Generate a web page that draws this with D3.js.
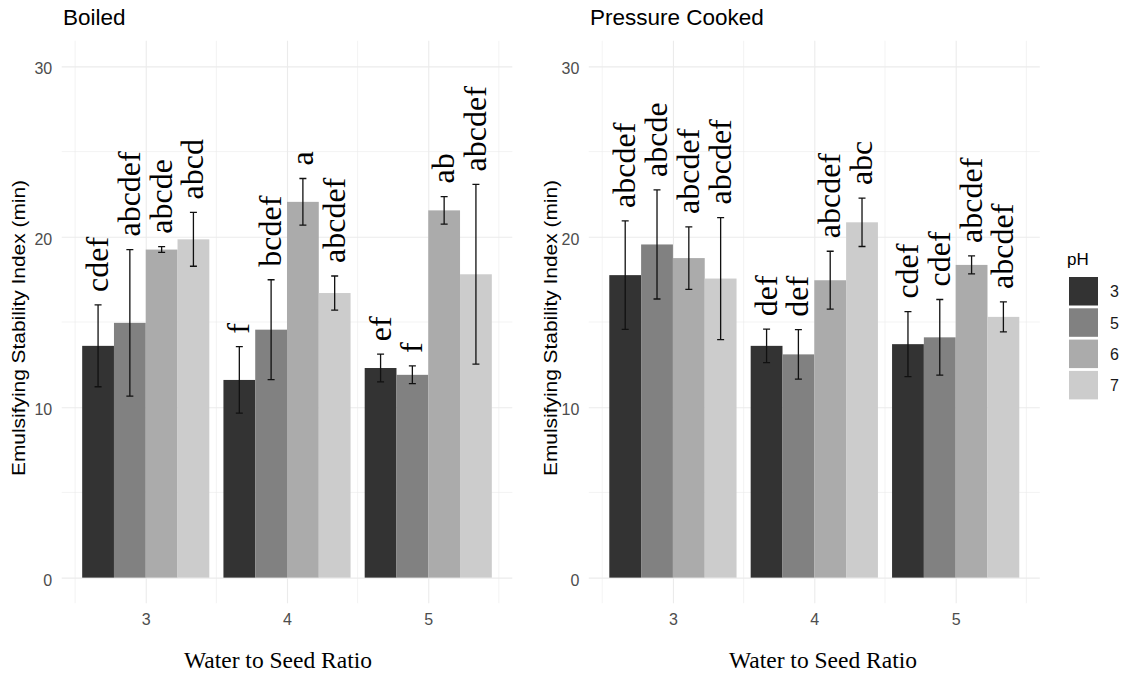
<!DOCTYPE html>
<html>
<head>
<meta charset="utf-8">
<script src="https://cdn.jsdelivr.net/npm/d3@7"></script>
<style>
  html, body { margin: 0; padding: 0; background: #ffffff; }
  svg { display: block; }
</style>
</head>
<body>
<div id="chart"></div>
<script>
// ---------------- DATA ----------------
const ratios = [3, 4, 5];                 // Water to Seed Ratio
const pHLevels = ["3", "5", "6", "7"];    // fill groups
const yTicks = [0, 10, 20, 30];
const yMinor = [5, 15, 25];
const xMinor = [2.5, 3.5, 4.5, 5.5];
const panelTitles = ["Boiled", "Pressure Cooked"];

// values ordered: ratio 3 (pH 3,5,6,7), ratio 4 (pH 3,5,6,7), ratio 5 (pH 3,5,6,7)
const boiledMean = [13.6, 14.95, 19.25, 19.85,  11.6, 14.55, 22.05, 16.7,  12.3, 11.9, 21.55, 17.8];
const boiledSE   = [2.4, 4.3, 0.17, 1.58,        1.95, 2.93, 1.37, 1.0,     0.81, 0.52, 0.81, 5.27];
const boiledLetters = ["cdef", "abcdef", "abcde", "abcd",  "f", "bcdef", "a", "abcdef",  "ef", "f", "ab", "abcdef"];

const pressureMean = [17.75, 19.55, 18.75, 17.55,  13.6, 13.1, 17.45, 20.85,  13.7, 14.1, 18.35, 15.3];
const pressureSE   = [3.18, 3.2, 1.83, 3.58,        0.98, 1.45, 1.7, 1.42,     1.91, 2.22, 0.53, 0.88];
const pressureLetters = ["abcdef", "abcde", "abcdef", "abcdef",  "def", "def", "abcdef", "abc",  "cdef", "cdef", "abcdef", "abcdef"];

const fillColors = ["#333333", "#818181", "#ababab", "#cccccc"];

// ---------------- BUILD ----------------
function buildRows(means, ses, letters) {
  const rows = [];
  ratios.forEach((r, ri) => {
    pHLevels.forEach((p, pi) => {
      const k = ri * pHLevels.length + pi;
      rows.push({ ratio: r, pH: p, pi: pi, mean: means[k], se: ses[k], letter: letters[k] });
    });
  });
  return rows;
}
const panelData = [
  buildRows(boiledMean, boiledSE, boiledLetters),
  buildRows(pressureMean, pressureSE, pressureLetters)
];

// ---------------- LAYOUT ----------------
const W = 1124, H = 677;
const panelTop = 40.8, panelBottom = 603.2;
const layout = [
  { x0: 61.7,  x1: 512.3, titleX: 63,  yTitleX: 25,  xTitleX: 278 },
  { x0: 588.8, x1: 1039.8, titleX: 590, yTitleX: 557, xTitleX: 823 }
];
const dodgeWidth = 0.9;

const svg = d3.select("#chart").append("svg")
  .attr("width", W).attr("height", H)
  .attr("viewBox", `0 0 ${W} ${H}`);
svg.append("rect").attr("width", W).attr("height", H).attr("fill", "#ffffff");

const y = d3.scaleLinear().domain([-1.5, 31.5]).range([panelBottom, panelTop]);
const fill = d3.scaleOrdinal().domain(pHLevels).range(fillColors);
const sans = "'Liberation Sans', Arial, sans-serif";
const serif = "'Liberation Serif', 'Times New Roman', serif";

panelData.forEach((rows, pIdx) => {
  const L = layout[pIdx];
  const x = d3.scaleLinear().domain([2.405, 5.595]).range([L.x0, L.x1]);
  const g = svg.append("g");

  // minor grid
  g.append("g").selectAll("line.hmin").data(yMinor).join("line")
    .attr("x1", L.x0).attr("x2", L.x1)
    .attr("y1", d => y(d)).attr("y2", d => y(d))
    .attr("stroke", "#ebebeb").attr("stroke-width", 0.6);
  g.append("g").selectAll("line.vmin").data(xMinor).join("line")
    .attr("x1", d => x(d)).attr("x2", d => x(d))
    .attr("y1", panelTop).attr("y2", panelBottom)
    .attr("stroke", "#ebebeb").attr("stroke-width", 0.6);

  // y axis (major grid + labels)
  const yAxis = g.append("g")
    .attr("transform", `translate(${L.x0},0)`)
    .call(d3.axisLeft(y).tickValues(yTicks).tickSize(-(L.x1 - L.x0)).tickPadding(9.5));
  yAxis.select(".domain").remove();
  yAxis.selectAll(".tick line").attr("stroke", "#ebebeb").attr("stroke-width", 1.1);
  yAxis.selectAll(".tick text")
    .attr("font-family", sans).attr("font-size", 16).attr("fill", "#4d4d4d").attr("dy", "0.47em");

  // x axis (major grid + labels)
  const xAxis = g.append("g")
    .attr("transform", `translate(0,${panelBottom})`)
    .call(d3.axisBottom(x).tickValues(ratios).tickFormat(d3.format("d"))
      .tickSize(-(panelBottom - panelTop)).tickPadding(10.5));
  xAxis.select(".domain").remove();
  xAxis.selectAll(".tick line").attr("stroke", "#ebebeb").attr("stroke-width", 1.1);
  xAxis.selectAll(".tick text")
    .attr("font-family", sans).attr("font-size", 16).attr("fill", "#4d4d4d");

  const barW = dodgeWidth / pHLevels.length;
  const xLeft = d => d.ratio - dodgeWidth / 2 + d.pi * barW;
  const xMid = d => x(xLeft(d) + barW / 2);

  // bars
  g.append("g").selectAll("rect").data(rows).join("rect")
    .attr("x", d => x(xLeft(d)))
    .attr("width", d => x(xLeft(d) + barW) - x(xLeft(d)))
    .attr("y", d => y(d.mean))
    .attr("height", d => y(0) - y(d.mean))
    .attr("fill", d => fill(d.pH));

  // error bars
  const capHalf = 3.5;
  const eb = g.append("g").attr("stroke", "#111111").attr("stroke-width", 1.3).attr("fill", "none");
  eb.selectAll("path").data(rows).join("path")
    .attr("d", d => {
      const cx = xMid(d), yt = y(d.mean + d.se), yb = y(d.mean - d.se);
      return `M${cx - capHalf},${yt}H${cx + capHalf}M${cx},${yt}V${yb}M${cx - capHalf},${yb}H${cx + capHalf}`;
    });

  // letters
  g.append("g").selectAll("text").data(rows).join("text")
    .attr("transform", d => `translate(${xMid(d)},${y(d.mean + d.se) - 13}) rotate(-90)`)
    .attr("y", 10)
    .attr("text-anchor", "start")
    .attr("font-family", serif).attr("font-size", 32).attr("fill", "#000000")
    .text(d => d.letter);

  // panel title
  svg.append("text").attr("x", L.titleX).attr("y", 25)
    .attr("font-family", sans).attr("font-size", 22.5).attr("fill", "#000000")
    .text(panelTitles[pIdx]);

  // y title
  svg.append("text")
    .attr("transform", `translate(${L.yTitleX},${328}) rotate(-90)`)
    .attr("text-anchor", "middle")
    .attr("font-family", sans).attr("font-size", 17.5).attr("fill", "#000000")
    .attr("textLength", 296).attr("lengthAdjust", "spacingAndGlyphs")
    .text("Emulsifying Stability Index (min)");

  // x title
  svg.append("text").attr("x", L.xTitleX).attr("y", 668)
    .attr("text-anchor", "middle")
    .attr("font-family", serif).attr("font-size", 23.5).attr("fill", "#000000")
    .text("Water to Seed Ratio");
});

// ---------------- LEGEND ----------------
const leg = svg.append("g");
leg.append("text").attr("x", 1067).attr("y", 264.5)
  .attr("font-family", sans).attr("font-size", 17).attr("fill", "#000000").text("pH");
const keyStep = 31.3;
const keys = leg.selectAll("g.key").data(pHLevels).join("g")
  .attr("transform", (d, i) => `translate(1069,${277 + i * keyStep})`);
keys.append("rect").attr("width", 29).attr("height", 28.5).attr("fill", d => fill(d));
keys.append("text").attr("x", 41).attr("y", 14.5).attr("dy", "0.36em")
  .attr("font-family", sans).attr("font-size", 16).attr("fill", "#1a1a1a").text(d => d);
</script>
</body>
</html>
